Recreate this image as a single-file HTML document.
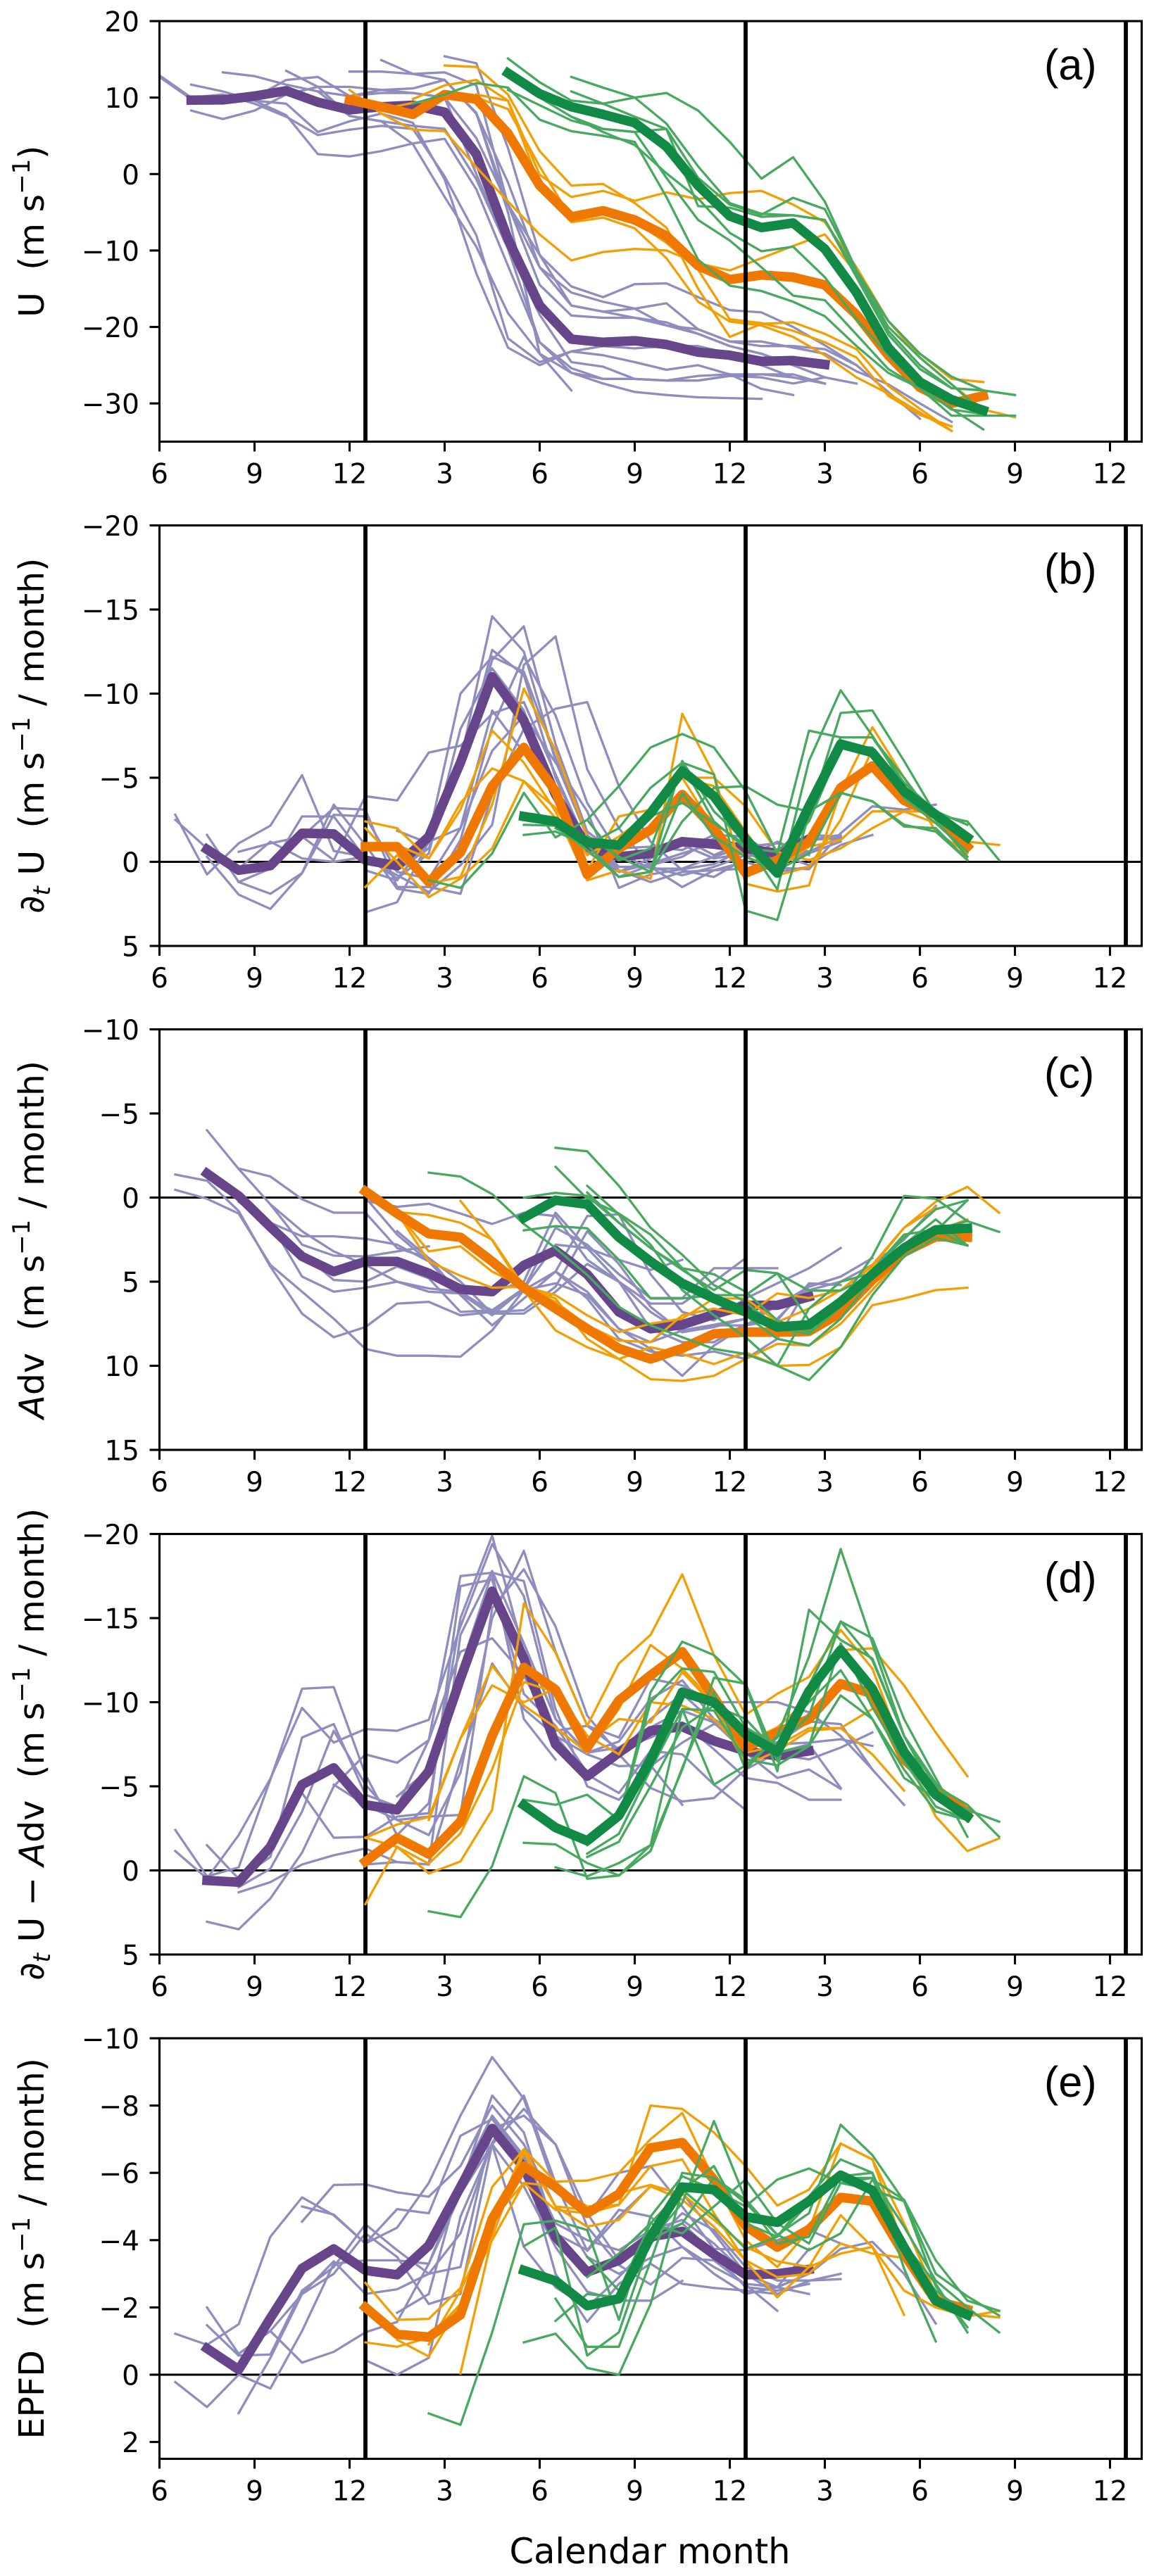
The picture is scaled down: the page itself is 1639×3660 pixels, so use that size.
<!DOCTYPE html>
<html lang="en">
<head>
<meta charset="utf-8">
<title>Zonal wind momentum budget by calendar month</title>
<style>
html,body{margin:0;padding:0;background:#fff;}
svg{display:block;}
text{font-family:"DejaVu Sans","Liberation Sans",sans-serif;fill:#000;white-space:pre;}
</style>
</head>
<body>
<svg id="figure" xmlns="http://www.w3.org/2000/svg" width="1639" height="3660" viewBox="0 0 1639 3660">
<rect x="0" y="0" width="1639" height="3660" fill="#fff"/>
<text x="923" y="3642" text-anchor="middle" font-size="49.5">Calendar month</text>
</svg>
<script>
// Every row below is [first calendar month on the running axis, value, value, ...]
const xTickMonths = [6,9,12,15,18,21,24,27,30,33,36];
const xTickLabels = ['6','9','12','3','6','9','12','3','6','9','12'];
const yearBoundaries = [12.5,24.5,36.5];

// Panel (a) U
const aTicks = [20,10,0,-10,-20,-30];
const aLimits = [20,-35];
const aPurpleMean = [7,9.67,9.7,10.2,10.9,9.4,8.4,8.8,9,8.1,2.6,-8.5,-17.2,-21.6,-22,-21.8,-22.3,-23.3,-23.7,-24.5,-24.4,-24.9];
const aOrangeMean = [12,9.7,8.8,7.8,10.4,9.8,5.3,-1.5,-5.6,-4.8,-6,-8.1,-12,-13.8,-13.2,-13.5,-14.5,-18.4,-23.7,-27.9,-30,-29];
const aGreenMean = [17,13.2,10.5,8.8,7.8,6.7,3.6,-1.5,-5.5,-7,-6.4,-9.8,-15.5,-22.7,-27.2,-29.5,-30.9];
const aPurpleMembers = [
 [15,15.4,14.5,3.4,-10.6,-14.7,-16.1,-14.4,-14.3,-16.1,-17.8,-18.1,-20,-22.4,-25,-28.5,-32],
 [13,14.9,13.1,12.3,7.9,-1.1,-12.2,-15.5,-16.7,-17.6,-16.9,-20.3,-21.9,-21.9,-22.7,-23.5,-25.8,-27.5,-30,-32.4],
 [12,13.4,13.4,13.1,13.3,11.6,-4,-14.5,-18.5,-18.8,-18.8,-19.4,-20.9,-22.5,-23.5,-25,-26.6],
 [10,13.5,11.4,7.6,6.9,6.3,5.9,-.7,-9.8,-18.4,-24.6,-25.2,-26.8,-27,-27,-26.4,-26.2,-26.2,-27.4],
 [8,13.3,12.8,11.7,10.8,10.2,10.6,10.6,10,4.7,-4,-12.2,-17.2,-18,-18.8,-19.8,-20.9,-22.5,-23.5,-25,-26.6,-27.4],
 [7,11.7,10.8,9.6,7.7,2.6,2.3,3,4,4.6,-2,-12,-22,-25.4,-26.8,-26.8,-27,-27,-26.4,-26.6,-27.4,-26.6],
 [7,8.3,7.2,8.3,10.4,11.4,11.4,11,10.6,10,0,-9.8,-22,-26,-27.4,-28.5,-28.9,-29.2,-29.3,-29.4],
 [6,12.9,10,10.4,9.2,7.5,5.1,5.8,6.3,5.9,-.3,-8,-21.5,-24.6,-23.2,-23.7,-24.6,-25.6,-25,-26.2,-28.1,-28.9],
 [6,12.7,9.8,10,9.6,9.2,5.5,6.9,7.9,6.7,-.7,-13,-22.7,-25,-23.2,-22.5,-22.8,-22.5,-22.5,-23.5,-25,-26.6],
 [9,10,12.3,12.7,10.2,11,11.2,12.3,8,-5,-23.5,-26,-26.8,-26.8,-27,-26.4,-26.2,-26.2,-26.6,-27.4],
 [11,10.8,7.6,6.9,3.9,-3,-9.5,-18.2,-23.5,-28.3],
 [15,12.3,7.9,-4,-10.6,-17.2,-18,-17.6,-19.8,-20.3,-21.9,-22.5,-22.5,-22.9,-25]
];
const aOrangeMembers = [
 [15,14.2,14,10.4,3,-1.5,-1.3,-3.8,-7,-15,-21.3,-19.6,-19.4,-20.9,-22.9,-27.7,-30.7,-33.6],
 [12,11,7.9,5.8,5.6,.9,-3.6,-7.9,-11.3,-10.2,-9.8,-10,-11.7,-12.6,-11,-9.4,-7.9,-13,-19.2,-23.5,-26.8,-27.2],
 [14,9.8,11.6,12.3,9.6,-.1,-3,-2.2,-3.5,-2.4,-3.3,-2.5,-2.2,-4,-6.3,-12.2,-19.2,-24,-27.5,-30.8,-31.8],
 [16,10.4,9.6,-1.5,-6.3,-5.7,-7.1,-11,-16.7,-19.3,-19.8,-21.3,-23.7,-26.6,-28.7,-31.2,-33.6],
 [13,8.5,9.3,9.8,10,8.5,1,-5.8,-5,-6.2,-9,-12.5,-19,-19.5,-20.5,-22,-24,-29,-31.5,-33]
];
const aGreenMembers = [
 [17,15.1,12,9.6,9.2,10,10.6,8.3,4.2,-.6,2.2,-3.6,-12.6,-19.2,-23.5,-26.5,-28.3,-28.9],
 [19,12.7,11.3,10,6.6,1,-3.8,-5.2,-5.4,-6,-13,-20.5,-25,-28,-28.3],
 [19,10.8,9.2,7.5,5.9,-.5,-4,-5.3,-3.1,-4.6,-12.6,-20,-24,-27.5,-31.2],
 [14,9.2,10.4,11.9,11.3,7.1,5.6,5,4.2,-3,-11.2,-14.6,-15.3,-16.7,-18.6,-22.5,-26,-28,-30.7,-33.4],
 [17,11,9,7,5.9,5.5,5.9,-4.2,-4.4,-5.6,-5.4,-6,-13.5,-21,-25.5,-28,-28.3],
 [18,10,7.5,5.5,3.8,.1,-3.2,-7.7,-10.1,-9.5,-13.5,-19,-23.7,-27.8,-30.8,-31.4],
 [19,7.5,5.9,5.5,-.5,-6,-8.7,-12.2,-15.9,-16.5,-21,-25.5,-28,-31.6,-31.6,-31.6]
];

// Panel (b) tendency
const bTicks = [-20,-15,-10,-5,0,5];
const bLimits = [-20,5];
const bPurpleMean = [7.5,-.74,.5,.23,-1.7,-1.66,-.1,.23,-1.5,-5.9,-11,-8.4,-4,-.9,-.3,-.5,-1.2,-1.05,-.8,-.5,-1.35];
const bOrangeMean = [12.5,-.9,-.9,1.2,-.56,-4.5,-6.8,-4.2,.75,-.8,-1.9,-4,-2,.67,-.1,-1.2,-4.4,-5.7,-3.65,-2.8,-.9];
const bGreenMean = [17.5,-2.7,-2.4,-1.15,-1,-2.9,-5.4,-3.9,-1.35,.67,-3.3,-7,-6.5,-4.2,-2.8,-1.45];
const bPurpleMembers = [
 [6.5,-2.8,.75,-1.1,-2.15,-5.15,-.65,-.3,1,-1.2,-6,-14.6,-12.5,-6,-1.5,.5,1.2,.6,.5,.4,.1,-.5,-1.2],
 [6.5,-2.5,-.8,.4,-1.2,-.2,0,-.3,.5,-.8,-5.5,-12.6,-11.1,-5,-1,-.8,-.9,-.7,-1.6,-1.5,-.2,-1.3,-1.6],
 [7.5,-1.6,1.2,.4,-2.7,-2.7,-.2,.8,1.8,.2,-2.2,-11.7,-13.4,-5.5,-2,.3,1.5,.5,0,.6,.3],
 [7.5,-.3,1.95,2.8,.67,-3.4,-1,1.6,1.9,-1.3,-8,-12.2,-8.7,-3.5,-.5,.4,.4,-.3,-.9,-1.1,-.6],
 [8.5,-.6,-1.1,-1.5,-3.2,-3.1,1.5,1.5,1.9,-4,-7.9,-9.1,-9.5,-4.5,-1.2,.5,.9,-.2,-1.2,-.4],
 [8.5,1.2,1.9,.67,-2.8,-2.7,.6,1,-2,-6.6,-8.7,-5.9,-3,1.55,.75,.44,.14,-.8,.35,.44,-1.7,-3.3,-3.1,-3.4],
 [10.5,-1.5,-.1,-3.9,-3.65,-6.5,-6.9,-8.8,-9.5,-5.2,-1,.9,.2,-.3,-1.4,-.9,-1.1,-.6],
 [12.5,3,2.4,-1.2,-2,-9,-6.5,-4,-.6,.6,-.2,-1.4,-.4,-1.2,-.5,.2,-1,-1.6],
 [13.5,-1.85,-1.1,-5.5,-12,-14,-7,-1.8,-.4,-.7,-1,-.2,-.5,-.1,-.6,-1.5],
 [12.5,.5,1.1,-1.5,-10,-12.2,-11.3,-6.2,-1.6,.3,.3,.8,.3,-.4,-.2,-1.6,-1.5],
 [13.5,1,-.5,-7.9,-11.5,-9,-3.8,-1,.6,.1,-.5,-1.1,-.6,.4,-1.3,-1.4]
];
const bOrangeMembers = [
 [12.5,-2.4,-2,-.2,-3.1,-7.8,-5.9,-3,1.1,.5,1,-8.8,-5.2,1.3,1.76,1.4,-4.2,-8,-5,-1.8,-.5],
 [12.5,-2,0,2.1,1,-.8,-4.8,-3.2,-.4,-1.5,-2.9,-5,-4.5,-1.8,.8,.3,-2.5,-6.7,-4,-2.6,-1.2,-1],
 [12.5,1.5,-.4,1.3,.9,-3.4,-10.3,-6.65,-1.5,-.8,-2.7,-5,-5,-3.3,-.6,-.1,-.8,-2,-3,-3,-.1],
 [13.5,-1,-.2,-3.5,-5.55,-4.8,-2.6,.5,-2.7,-3.1,-5,-2,-.3,.4,-.9,-1.3,-3,-3,-2.3,-.8]
];
const bGreenMembers = [
 [14.5,1.1,1.55,-.5,-4.1,-1.45,-2.5,-4.5,-6.8,-7.6,-6.8,-4.2,-.5,-7.8,-7.4,-7.4,-5,-2.5,-1.5],
 [17.5,-2.2,-2.15,-.7,.9,.6,-2.4,-4.4,-4.5,-3.4,-3,-4.1,-3.6,-2.1,-2,-.1],
 [17.5,-1.6,-1.8,-1,-2,-4.4,-5.9,-5.2,2.9,3.46,-2.8,-8.85,-9,-6,-2.8,-2.4,-.1],
 [18.5,-2,-1,.9,.6,-6,-3,-1.2,1.64,-6,-10.2,-7.5,-4.5,-2.5,-.3],
 [19.5,-1.5,-.7,-2.7,-3.5,-2.3,-1,.7,-2.5,-7.4,-7.4,-4.7,-3,-2.2],
 [19.5,-2.5,-.1,-.8,-5.8,-2.4,-.8,-.6,-2.4,-6.8,-6.8,-3.8,-2.3,-.6],
 [19.5,-1.5,-.3,.6,-4.1,-1.5,-.3,.5,-.5,-4.1,-3.6,-2.2,-1.8,-.1]
];

// Panel (c) advection
const cTicks = [-10,-5,0,5,10,15];
const cLimits = [-10,15];
const cPurpleMean = [7.5,-1.43,-.1,1.75,3.5,4.4,3.8,3.8,4.5,5.45,5.6,4.03,3.15,4.56,6.8,7.8,7.56,6.95,6.4,6.4,5.9];
const cOrangeMean = [12.5,-.37,.95,2.15,2.36,3.8,5.36,6.6,7.8,8.97,9.6,8.97,8.1,8,8,7.96,6.85,4.9,3.25,2.33,2.36];
const cGreenMean = [17.5,1.2,.16,.4,2.36,3.8,5.1,6,6.8,7.7,7.56,6.2,4.56,3,1.92,1.83];
const cPurpleMembers = [
 [6.5,-1.37,-1,.8,4.1,6.9,8.3,7.7,6.3,6.2,7,6.8,5.5,5.1,5.8,7.8,8.6,7.9,7.56,7.2,6.4,5.3,4.7],
 [6.5,-.46,.07,.95,4,5.6,7.2,9,9.4,9.4,9.46,7.9,5.5,4.4,6,8.4,9.15,9.4,9.15,9.6,8.4,5.2],
 [7.5,-4,-1.7,.4,2.8,3.45,3.5,3.2,2.9],
 [8.5,-1.73,-1.25,.1,.9,.9,3,3.6,5,6.9,6.9,5.6,3.95,5,6.3,6.3,5,3.6],
 [8.5,.25,1.5,2.3,2.3,2.45,2.8,3.8,5.8,6.7,5.4,1.8,2.8,4.56,5.97,5.97,4.2,4.2,4.2],
 [9.5,.4,2,3.2,4,5,5.4,5.6,6.8,6.7,5.3,2,3.95,6.5,8,7.6,7.6,7.3,5.1,5.2],
 [9.5,1.5,4.7,5.6,5.36,5,5.6,5.7,5.6,5,.9,3,3.7,4.3,3.7],
 [10.5,3.3,4.9,5,4.1,4.8,6.8,6.7,5.5,4.4,1.1,1,4.56,6.8,7.3,6,5.1,4.2,3],
 [12.5,0,2.2,3.8,5.7,7,5.4,2.8,3,5,7.8,8.6,8.6,7.5,7.2,5.3,4.7,3.6],
 [12.5,.2,.55,.37,.95,1.57,.9,1.1,3.7,5,6.8,8,7.7,7.2,6.5,5.5,5,4,2.5,.5],
 [13.5,2,3.6,5.8,7.6,6,4.4,5.6,7.8,9,10.6,8.8,7.6,6.4]
];
const cOrangeMembers = [
 [12.5,-.3,.86,1.04,1.5,2.5,5.3,6,8.4,9.6,10.8,10.9,10.6,9.6,8.7,8.8,7.5,5.5,3.4,2,1.3],
 [15.5,.2,2.54,5.5,7.9,8.9,9.6,8.9,9.3,9.9,9.2,10,9.95,8.9,6.4,6,5.5,5.36],
 [13.5,.9,3.2,2.9,4.4,5.3,6.2,7.6,8.5,8.6,7,6.6,7,5.7,5.97,5.5,4.1,1.8,.6],
 [13.5,.9,3.8,4.65,5.36,5.3,5.8,7,8,7.5,7.2,6,6,7.4,6.6,5.5,4,1.8,.25,-.63,.9]
];
const cGreenMembers = [
 [14.5,-1.48,-1.25,-.2,1.57,3,4.6,6.5,7.6,8.3,9,9.3,10,10.85,8.9,5.8,3.5,2.4,2.85],
 [18.5,-2.96,-2.75,-.7,1.8,3.4,5.2,6.2,7.8,8.1,6.5,4.4,2.4,.7,.16],
 [18.5,-1.83,.07,.95,2.2,4.2,4.56,5.6,7.3,8,6.2,3.5,-.1,.07,1.4,2.04],
 [17.5,0,-.28,-.1,1.5,3,4.2,5.8,7,8.4,8.8,7.2,4.8,3,2,.16],
 [17.5,1.95,1.7,1.83,3.7,6,6,5.8,5.8,4.5,5.53,5.53,4.6,2.8,1.3,2.85],
 [19.5,-.3,1.5,3,4.3,5.5,4.3,4.5,7.3,6.2,4.3,2.2,1.9,2.85],
 [19.5,-.7,1,2.8,5.5,7,8.3,10,6.6,5,4.5,3,1.9,1.4]
];

// Panel (d) residual
const dTicks = [-20,-15,-10,-5,0,5];
const dLimits = [-20,5];
const dPurpleMean = [7.5,.6,.7,-1.4,-5.1,-6.1,-3.9,-3.6,-5.9,-11.4,-16.6,-12.6,-7.5,-5.6,-7,-8.3,-8.55,-7.7,-7.1,-6.8,-7.1];
const dOrangeMean = [12.5,-.53,-1.94,-.97,-2.9,-8,-12.07,-10.75,-7.3,-10.1,-11.6,-13,-10.3,-7.3,-8.2,-9,-11.1,-10.5,-6.6,-4.85,-3.44];
const dGreenMean = [17.5,-3.88,-2.55,-1.76,-3.26,-6.6,-10.6,-10,-8.1,-7.05,-10.66,-13.1,-10.8,-7.05,-4.5,-3.2];
const dPurpleMembers = [
 [6.5,-2.4,.35,-.18,-5.4,-10.8,-10.9,-5.7,-2.1,-4,-15,-19.9,-13,-8.3,-8.6,-7.9,-11.4,-11,-10,-10,-10,-9.4,-8,-6],
 [6.5,-1.15,.48,-2.1,-5.46,-9.66,-7.6,-8.4,-8.3,-8.95,-14.5,-19.4,-16.3,-9,-7,-7.66,-10.2,-11.3,-9,-7.8,-7.6,-8.85,-8.7,-6,-3.9],
 [7.5,-1.5,.5,-.8,-7.9,-8.7,-4.5,-3.8,-7.75,-17.5,-17.7,-9,-6.6],
 [7.5,3.05,3.5,1.67,-1.06,-5,-6.9,-6.4,-7.75,-13,-13.8,-11.6,-8,-6.9,-6.2,-6.25,-3.9],
 [8.5,1.3,.7,-.35,-.9,-1.3,-.5,-.35,-6.5,-12.3,-9.6,-8,-5.7,-4.6,-7.1,-6.9,-5.1,-3.6],
 [8.5,1,-.1,-3.5,-8.3,-5.1,-3,-2.1,-5.8,-15,-19,-13,-8.6,-7.2,-7.9,-8.8,-7.2,-5.5,-5.2,-4.2,-4.2],
 [10.5,-4.6,-1.94,-2,-3.2,-3.4,-16.9,-17.3,-10.5,-8.6,-5.8,-6.8,-9,-10.5,-8.8,-7,-5.5,-6,-4.85],
 [12.5,-.35,-.5,-.35,-14,-17.8,-13.5,-9,-7,-7.3,-8.5,-9.5,-8.8,-7.8,-6.9,-6.6,-7.3,-8.2],
 [11.5,-5.1,-3.9,-3,-3.2,-3.3,-15.6,-17.9,-14.5,-9.2,-6.9,-4.9,-4.1,-4.3,-6,-7,-7.5,-4.9],
 [13.5,-4.4,-6,-12,-17.7,-17.2,-9.6,-5,-4.2,-6.2,-7.6,-8.7,-8,-7.5,-7.6,-7.8,-7.4]
];
const dOrangeMembers = [
 [12.5,-1.94,-1.4,.18,-.53,-3.6,-15.86,-12.95,-8.6,-12.3,-14,-17.6,-12.8,-9.25,-10.5,-11.5,-14.3,-12,-7,-3.2,-1.15,-1.9],
 [12.5,2,-1.4,-.4,-2.2,-6,-11.2,-10.6,-7.6,-9,-8.8,-11.8,-9.8,-6.25,-7.1,-8.3,-8.46,-6.9,-4.75],
 [12.5,-1.94,-2.73,-3.17,-7.84,-12.16,-9.8,-8.5,-7,-9.6,-13.4,-12,-10,-7.6,-8.5,-10.2,-13.1,-13.2,-11,-8.2,-5.6],
 [14.5,-3,-7.84,-11,-10,-10.8,-8,-6.9,-10,-9.8,-9,-7,-7.4,-8.46,-8.46,-9.6]
];
const dGreenMembers = [
 [14.5,2.43,2.78,-.26,-5.6,-4.6,.5,.3,-1.15,-6.1,-10.6,-6,-8,-12.7,-19.1,-13.5,-8,-5,-3.9,-2],
 [17.5,-4.2,-3.9,-4.5,-3,-10.6,-13.6,-12.8,-11,-5.9,-15.5,-13.7,-12.6,-8,-4.5,-3.6,-2.9],
 [17.5,-1.64,-1.55,-.44,.3,-1.5,-6,-11.45,-11.1,-6.5,-11,-14.8,-13.8,-9,-5.5,-2],
 [18.5,-.18,.35,-.44,-1.5,-9.6,-5.1,-6.25,-7.9,-10,-11.9,-9,-6,-3.5,-3],
 [19.5,-1,-2.17,-6,-9.6,-9.5,-6.6,-6.25,-7.4,-10.4,-9,-5.5,-4.3,-3],
 [19.5,-1.5,-3,-10,-12,-11.8,-8.5,-7.4,-9.2,-14.8,-12.5,-8,-5.2,-2.9],
 [19.5,-.8,-1.7,-5,-8.5,-9.8,-9,-7,-7.4,-13.5,-9.7,-6.5,-3.8,-3]
];

// Panel (e) EP flux divergence
const eTicks = [-10,-8,-6,-4,-2,0,2];
const eLimits = [-10,2.5];
const ePurpleMean = [7.5,-.78,-.15,-1.68,-3.16,-3.74,-3.1,-2.97,-3.84,-5.58,-7.32,-6.16,-4.1,-3.05,-3.4,-4.1,-4.26,-3.58,-2.97,-3,-3.13];
const eOrangeMean = [12.5,-2,-1.2,-1.12,-1.78,-4.63,-6.2,-5.58,-4.8,-5.37,-6.74,-6.9,-5.8,-4.42,-3.79,-4.32,-5.27,-5.16,-3.58,-2.2,-1.94];
const eGreenMean = [17.5,-3.1,-2.79,-2.05,-2.26,-4.1,-5.58,-5.5,-4.69,-4.53,-5.16,-5.93,-5.48,-3.79,-2.2,-1.78];
const ePurpleMembers = [
 [6.5,-1.22,-.89,-1.5,-4.1,-5.27,-4.74,-3.9,-4.37,-5.7,-7.7,-9.44,-8.2,-5.5,-4.7,-6,-6.2,-5,-3.74,-3.7,-4,-4.3,-3.9],
 [6.5,.22,.96,0,.41,-1.3,-3.3,-3.4,-3.4,-3.3,-5.6,-8.3,-7.2,-4.2,-3.7,-4.9,-4.7,-3.8,-3,-2.4,-2.6,-3.74],
 [7.5,-2,-.62,-1.3,-2.4,-3.37,-2.4,-2.54,-3,-3.2,-7.3,-7.7,-6.85,-4.8,-3.4,-4.1,-4.5,-3.6,-2.6,-2.5,-2.7],
 [7.5,-1.47,-.57,-.6,-2.5,-3.2,-4.47,-3.7,-3,-4.2,-6.9,-8.3,-5.7,-3.68,-4.7,-5.6,-5.4,-4.2,-3,-2.4,-2.79,-3],
 [8.5,1.14,-.5,-2.4,-3,-4.2,-3.5,-2.1,-2.4,-6.85,-7.9,-6.85,-4.4,-3.26,-2.68,-3.47,-3.4,-2.68,-1.9],
 [8.5,-.62,-1.3,-.36,-.68,-1.26,-1.57,-3.3,-5.37,-6.85,-5.6,-3.8,-2.47,-2.2,-2.2,-2.79],
 [10.5,-5,-4.76,-3.9,-4.92,-4.8,-7.1,-7.6,-6.4,-3,-1.57,-2.7,-3.3,-2.7,-2.58,-2.5,-2.4],
 [10.5,-4.55,-5.64,-5.66,-5.42,-5.29,-6.2,-8,-6.85,-5,-3.5,-3,-3.47,-3.8,-3.2,-2.7,-2.6,-3,-3.74,-3.95,-3,-1.52],
 [12.5,-.43,0,-.5,-4.7,-6.85,-3.8,-2.6,-2,-2.9,-3.9,-4.8,-4.3,-3.2,-2.8,-2.8,-2.84],
 [13.5,-1.84,-2.4,-5.8,-7.7,-6.5,-4.5,-4,-3.7,-4.3,-4.6,-3.9,-3,-2.6,-2.4]
];
const eOrangeMembers = [
 [12.5,-2.73,-1.63,-1.66,-2.58,-5.58,-6.7,-5.74,-5.77,-6,-7,-7.78,-5.8,-4,-3.2,-4.3,-6.87,-6.4,-3.8,-2,-1.9],
 [12.5,-.96,-.83,-1.1,-2.1,-4.6,-5.7,-5.6,-5,-5.05,-8,-7.9,-7.2,-6.2,-5.03,-5.5,-6.87,-6.4,-4.5,-2.4,-1.8,-1.7],
 [13.5,-1.04,-.54,-2.1,-4,-5.7,-4.9,-4.8,-5.05,-6.2,-6.4,-4.8,-3.37,-2.3,-3.2,-4.74,-3.8,-1.78],
 [15.5,-.04,-4.1,-6.6,-5,-4.9,-5.4,-5.64,-5.37,-4.6,-3.8,-3.37,-3.2,-3.6,-3.8,-2.5,-2,-1.73,-1.9],
 [14.5,-.9,-2.5,-4.5,-6.7,-5,-4.4,-4.6,-5.6,-5.2,-4.4,-3.4,-2.9,-3,-3.9,-3.6,-3.47,-2.4,-1.8,-1.7]
];
const eGreenMembers = [
 [14.5,1.15,1.49,-1.26,-4.47,-4.58,-4.3,-1.63,-4.7,-5.9,-5.5,-5,-5.8,-6.13,-5.7,-5.5,-5.16,-3,-2.33,-1.76],
 [17.5,-3.82,-4.37,-.57,-1.26,-4,-5.1,-7.54,-5.2,-4.16,-4.8,-7.43,-6.53,-5.16,-2.63,-1.41],
 [17.5,-.96,-1.22,-.2,0,-2.1,-5.5,-6.2,-4.5,-4.1,-5.3,-6.4,-6,-3.16,-.99],
 [18.5,-2.26,-.83,-.83,-3.37,-6,-5.85,-5.2,-3.9,-4.1,-5.9,-6,-3.9,-2.7,-1.26],
 [18.5,-1.6,-2.4,-2.3,-4,-4.5,-5.85,-5.1,-4.16,-3.7,-4.2,-5.8,-5.2,-3.4,-2.2,-1.9],
 [19.5,-2.9,-3.6,-4.5,-5.5,-4.7,-3.74,-4.1,-5.1,-5.85,-5.85,-3.6,-2.5,-1.8],
 [19.5,-3.5,-2.5,-4.5,-4.2,-5,-5.8,-4.5,-3.9,-5.7,-5.85,-4.4,-2.8,-2,-1.26]
];

// Panel labels and axis titles
const panelLetters = ['(a)','(b)','(c)','(d)','(e)'];
const panelTops = [30,746.5,1462.5,2179.5,2896];

const SVGNS = 'http://www.w3.org/2000/svg';
const svg = document.getElementById('figure');
const PANEL_H = 597.5, LEFT = 226.5, RIGHT = 1621.5;
const XMIN = 6, XMAX = 37;
const COL = {
  purpleThin:'#8e8dbd', purpleThick:'#66458a',
  orangeThin:'#f29f05', orangeThick:'#ef7900',
  greenThin:'#47a95f', greenThick:'#118a46'
};
function xScale(m){ return LEFT + (m - XMIN) / (XMAX - XMIN) * (RIGHT - LEFT); }
function make(tag, attrs, parent){
  const n = document.createElementNS(SVGNS, tag);
  for (const k in attrs) n.setAttribute(k, attrs[k]);
  (parent || svg).appendChild(n);
  return n;
}
function pointsOf(row, yScale){
  const out = [];
  for (let i = 1; i < row.length; i++) out.push(xScale(row[0] + i - 1).toFixed(1) + ',' + yScale(row[i]).toFixed(1));
  return out.join(' ');
}
function drawMembers(rows, color, yScale, clipId, group, name){
  rows.forEach(function(row){
    const l = make('polyline', {points:pointsOf(row, yScale), fill:'none', stroke:color, 'stroke-width':3.3, 'stroke-linejoin':'round', 'stroke-linecap':'square', 'clip-path':'url(#'+clipId+')'}, group);
    
    
  });
}
function drawMean(row, color, yScale, clipId, group, name){
  const l = make('polyline', {points:pointsOf(row, yScale), fill:'none', stroke:color, 'stroke-width':13.5, 'stroke-linejoin':'round', 'stroke-linecap':'square', 'clip-path':'url(#'+clipId+')'}, group);
  
  
}
function drawBoundary(month, top, group){
  const l = make('line', {x1:xScale(month), x2:xScale(month), y1:top, y2:top+PANEL_H, stroke:'#000', 'stroke-width':5.8}, group);
  
  
}
function tspan(parent, txt, attrs){
  const t = make('tspan', attrs || {}, parent);
  t.textContent = txt;
  return t;
}
function addSuper(t){
  tspan(t, 'm s');
  tspan(t, '\u22121', {dy:-20, 'font-size':34});
  tspan(t, ' / month)', {dy:20});
}
function yTitle(key, cy, group){
  const t = make('text', {transform:'translate(62 '+cy+') rotate(-90)', x:0, y:0, 'text-anchor':'middle', 'font-size':49}, group);
  
  
  if (key === 'a'){
    tspan(t, 'U  (m s');
    tspan(t, '\u22121', {dy:-20, 'font-size':34});
    tspan(t, ')', {dy:20});
  } else if (key === 'b'){
    tspan(t, '\u2202');
    tspan(t, 't', {dy:9, 'font-size':34, 'font-style':'italic'});
    tspan(t, ' U  (', {dy:-9});
    addSuper(t);
  } else if (key === 'c'){
    tspan(t, 'A', {'font-style':'italic'});
    tspan(t, 'dv  (');
    addSuper(t);
  } else if (key === 'd'){
    tspan(t, '\u2202');
    tspan(t, 't', {dy:9, 'font-size':34, 'font-style':'italic'});
    tspan(t, ' U \u2212 ', {dy:-9});
    tspan(t, 'A', {'font-style':'italic'});
    tspan(t, 'dv  (');
    addSuper(t);
  } else {
    tspan(t, 'EPFD  (');
    addSuper(t);
  }
}
const panels = [
 {key:'a', ticks:aTicks, lim:aLimits, pm:aPurpleMembers, pa:aPurpleMean, om:aOrangeMembers, oa:aOrangeMean, gm:aGreenMembers, ga:aGreenMean, zero:false},
 {key:'b', ticks:bTicks, lim:bLimits, pm:bPurpleMembers, pa:bPurpleMean, om:bOrangeMembers, oa:bOrangeMean, gm:bGreenMembers, ga:bGreenMean, zero:true},
 {key:'c', ticks:cTicks, lim:cLimits, pm:cPurpleMembers, pa:cPurpleMean, om:cOrangeMembers, oa:cOrangeMean, gm:cGreenMembers, ga:cGreenMean, zero:true},
 {key:'d', ticks:dTicks, lim:dLimits, pm:dPurpleMembers, pa:dPurpleMean, om:dOrangeMembers, oa:dOrangeMean, gm:dGreenMembers, ga:dGreenMean, zero:true},
 {key:'e', ticks:eTicks, lim:eLimits, pm:ePurpleMembers, pa:ePurpleMean, om:eOrangeMembers, oa:eOrangeMean, gm:eGreenMembers, ga:eGreenMean, zero:true}
];
panels.forEach(function(p, idx){
  const top = panelTops[idx];
  const yScale = function(v){ return top + (v - p.lim[0]) / (p.lim[1] - p.lim[0]) * PANEL_H; };
  const g = make('g', {});
  
  
  const clipId = 'clip-' + p.key;
  const cp = make('clipPath', {id:clipId}, g);
  make('rect', {x:LEFT, y:top, width:RIGHT-LEFT, height:PANEL_H}, cp);

  if (p.zero){
    const z = make('line', {x1:LEFT, x2:RIGHT, y1:yScale(0), y2:yScale(0), stroke:'#000', 'stroke-width':3.1}, g);
    
    
  }
  drawMembers(p.pm, COL.purpleThin, yScale, clipId, g, 'purple-member-line');
  drawMean(p.pa, COL.purpleThick, yScale, clipId, g, 'purple-mean-line');
  drawBoundary(yearBoundaries[0], top, g);
  drawMembers(p.om, COL.orangeThin, yScale, clipId, g, 'orange-member-line');
  drawMean(p.oa, COL.orangeThick, yScale, clipId, g, 'orange-mean-line');
  drawMembers(p.gm, COL.greenThin, yScale, clipId, g, 'green-member-line');
  drawMean(p.ga, COL.greenThick, yScale, clipId, g, 'green-mean-line');
  drawBoundary(yearBoundaries[1], top, g);
  drawBoundary(yearBoundaries[2], top, g);

  const frame = make('rect', {x:LEFT, y:top, width:RIGHT-LEFT, height:PANEL_H, fill:'none', stroke:'#000', 'stroke-width':3.1}, g);
  
  

  p.ticks.forEach(function(v){
    const y = yScale(v);
    const tk = make('line', {x1:LEFT-14, x2:LEFT, y1:y, y2:y, stroke:'#000', 'stroke-width':3.1}, g);
    
    
    const lb = make('text', {x:198, y:y+14.5, 'text-anchor':'end', 'font-size':39}, g);
    lb.textContent = String(v).replace('-', '\u2212');
    
    
  });
  xTickMonths.forEach(function(m, i){
    const x = xScale(m);
    const tk = make('line', {x1:x, x2:x, y1:top+PANEL_H, y2:top+PANEL_H+14, stroke:'#000', 'stroke-width':3.1}, g);
    
    
    const lb = make('text', {x:x, y:top+PANEL_H+59, 'text-anchor':'middle', 'font-size':39}, g);
    lb.textContent = xTickLabels[i];
    
    
  });
  const letter = make('text', {x:1483, y:top+83, 'font-size':61, style:'font-family:"Liberation Sans",sans-serif'}, g);
  letter.textContent = panelLetters[idx];
  
  
  yTitle(p.key, top + PANEL_H/2, g);
});
</script>
</body>
</html>
